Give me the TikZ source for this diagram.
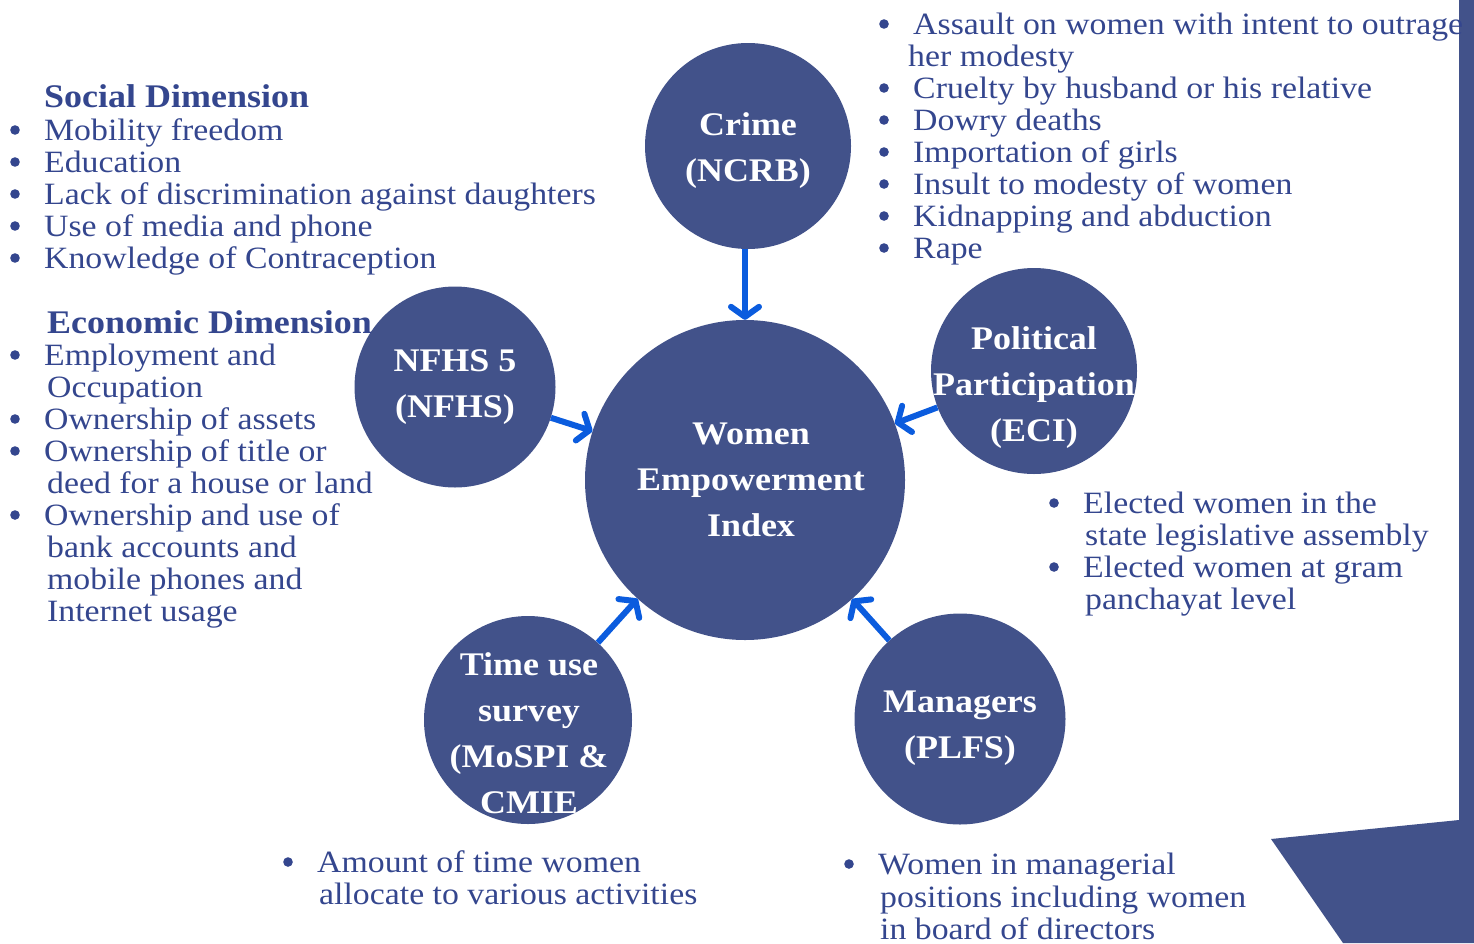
\documentclass[tikz,border=0pt]{standalone}
\usepackage{fontspec}
\setmainfont{Liberation Serif}[FakeStretch=1.09]
\usetikzlibrary{arrows.meta}
\definecolor{cf}{HTML}{42528A}
\definecolor{tc}{HTML}{34468E}
\definecolor{ac}{HTML}{0B5CDE}
\newcommand\bul[1]{\fill[tc] ([xshift=-29pt,yshift=10pt]#1.base west) circle (4.8pt);}
\tikzset{
  circ/.style={circle, fill=cf, draw=none, inner sep=0pt},
  ctext/.style={text=white, font=\fontsize{33}{46}\selectfont\bfseries, align=center, inner sep=0pt},
  txt/.style={anchor=base west, inner sep=0pt, text=tc, font=\fontsize{31}{32}\selectfont},
  hd/.style={anchor=base west, inner sep=0pt, text=tc, font=\fontsize{33}{34}\selectfont\bfseries},
  arr/.style={draw=ac, line width=6pt, -{Straight Barb[length=10pt,width=28pt,line cap=round,line join=round]}},
  band/.style={fill=cf}
}
\begin{document}
\begin{tikzpicture}[x=1pt,y=-1pt]
\useasboundingbox (0,0) rectangle (1474,943);
% decorative band
\fill[band] (1271,839) -- (1459,820) -- (1459,0) -- (1474,0) -- (1474,943) -- (1343,943) -- cycle;
% circles
\node[circ, minimum size=206pt] (crime) at (748,146) {};
\node[circ, minimum size=201pt] (nfhs) at (455,387) {};
\node[circ, minimum size=320pt] (wei) at (745,480) {};
\node[circ, minimum size=206pt] (pol) at (1034,371) {};
\node[circ, minimum size=208pt] (tus) at (528,720) {};
\node[circ, minimum size=211pt] (mgr) at (960,719) {};
% circle texts
\node[ctext] (crimeT) at (748,151) {Crime\\(NCRB)};
\node[ctext] (nfhsT) at (455,387) {NFHS 5\\(NFHS)};
\node[ctext] (weiT) at (751,480) {Women\\Empowerment\\Index};
\node[ctext] (polT) at (1034,388) {Political\\Participation\\(ECI)};
\node[ctext] (tusT) at (529,733) {Time use\\survey\\(MoSPI \&\\CMIE};
\node[ctext] (mgrT) at (960,728) {Managers\\(PLFS)};
% arrows
\draw[arr] (crime.south -| wei.north) -- (wei.north);
\draw[arr] (nfhs) -- (wei);
\draw[arr] (pol) -- (wei);
\draw[arr] (tus) -- (wei);
\draw[arr] (mgr) -- (wei);
% social dimension
\node[hd] (sh) at (44,107) {Social Dimension};
\node[txt] (s1) at (44,140) {Mobility freedom};
\node[txt] (s2) at (44,172) {Education};
\node[txt] (s3) at (44,204) {Lack of discrimination against daughters};
\node[txt] (s4) at (44,236) {Use of media and phone};
\node[txt] (s5) at (44,268) {Knowledge of Contraception};
% economic dimension
\node[hd] (eh) at (47,333) {Economic Dimension};
\node[txt] (e1) at (44,365) {Employment and};
\node[txt] (e2) at (47,397) {Occupation};
\node[txt] (e3) at (44,429) {Ownership of assets};
\node[txt] (e4) at (44,461) {Ownership of title or};
\node[txt] (e5) at (47,493) {deed for a house or land};
\node[txt] (e6) at (44,525) {Ownership and use of};
\node[txt] (e7) at (47,557) {bank accounts and};
\node[txt] (e8) at (47,589) {mobile phones and};
\node[txt] (e9) at (47,621) {Internet usage};
% crime list
\node[txt] (c1) at (913,34) {Assault on women with intent to outrage};
\node[txt] (c2) at (908,66) {her modesty};
\node[txt] (c3) at (913,98) {Cruelty by husband or his relative};
\node[txt] (c4) at (913,130) {Dowry deaths};
\node[txt] (c5) at (913,162) {Importation of girls};
\node[txt] (c6) at (913,194) {Insult to modesty of women};
\node[txt] (c7) at (913,226) {Kidnapping and abduction};
\node[txt] (c8) at (913,258) {Rape};
% political list
\node[txt] (p1) at (1083,513) {Elected women in the};
\node[txt] (p2) at (1085,545) {state legislative assembly};
\node[txt] (p3) at (1083,577) {Elected women at gram};
\node[txt] (p4) at (1085,609) {panchayat level};
% time use list
\node[txt] (t1) at (317,872) {Amount of time women};
\node[txt] (t2) at (319,904) {allocate to various activities};
% managers list
\node[txt] (m1) at (878,874) {Women in managerial};
\node[txt] (m2) at (880,907) {positions including women};
\node[txt] (m3) at (880,939) {in board of directors};
% bullets
\bul{s1} \bul{s2} \bul{s3} \bul{s4} \bul{s5}
\bul{e1} \bul{e3} \bul{e4} \bul{e6}
\bul{c1} \bul{c3} \bul{c4} \bul{c5} \bul{c6} \bul{c7} \bul{c8}
\bul{p1} \bul{p3}
\bul{t1}
\bul{m1}
\end{tikzpicture}
\end{document}
